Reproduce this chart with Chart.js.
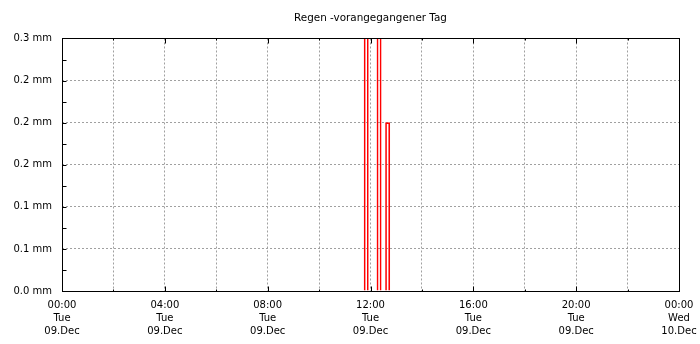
<!DOCTYPE html>
<html>
<head>
<meta charset="utf-8">
<script src="https://cdn.jsdelivr.net/npm/chart.js@4"></script>
<style>
    body { margin: 0; background: #fff; }
    #wrap { width: 700px; height: 344px; }
</style>
</head>
<body>
<div id="wrap"><canvas id="rainChart"></canvas></div>
<script>
// Rain per 10-minute slot (label = slot centre), previous day
const rainTimes = ['11:50', '12:20', '12:40'];
const rainMm = [0.4, 0.4, 0.2];

const yTickLabels = ['0.0 mm', '0.1 mm', '0.1 mm', '0.2 mm', '0.2 mm', '0.2 mm', '0.3 mm'];
const xTickLabels = [
    ['00:00', 'Tue', '09.Dec'],
    ['04:00', 'Tue', '09.Dec'],
    ['08:00', 'Tue', '09.Dec'],
    ['12:00', 'Tue', '09.Dec'],
    ['16:00', 'Tue', '09.Dec'],
    ['20:00', 'Tue', '09.Dec'],
    ['00:00', 'Wed', '10.Dec']
];

// 10-minute slots from 00:00 to 24:00
const slotLabels = [];
for (let i = 0; i <= 144; i++) {
    const h = Math.floor(i / 6), m = (i % 6) * 10;
    slotLabels.push(String(h).padStart(2, '0') + ':' + String(m).padStart(2, '0'));
}
const rainData = slotLabels.map(() => null);
rainTimes.forEach((t, k) => { rainData[slotLabels.indexOf(t)] = rainMm[k]; });

const gridGray = '#a0a0a0';

// frame + inward tick marks
const frameTicks = {
    id: 'frameTicks',
    afterDatasetsDraw(chart) {
        const { ctx, chartArea: a, scales: { x, y } } = chart;
        const L = Math.round(a.left) + 0.5, R = Math.round(a.right) + 0.5;
        const T = Math.round(a.top) + 0.5, B = Math.round(a.bottom) + 0.5;
        ctx.save();
        ctx.strokeStyle = '#000';
        ctx.lineWidth = 1;
        ctx.setLineDash([]);
        ctx.beginPath();
        y.ticks.forEach((t, i) => {
            const py = Math.round(y.getPixelForTick(i)) + 0.5;
            ctx.moveTo(L, py); ctx.lineTo(L + 4, py);
        });
        x.ticks.forEach((t, i) => {
            if (i % 12 !== 0) return;
            const len = i % 24 === 0 ? 5 : 2;
            const px = Math.round(x.getPixelForTick(i)) + 0.5;
            ctx.moveTo(px, B); ctx.lineTo(px, B - len);
            ctx.moveTo(px, T); ctx.lineTo(px, T + len);
        });
        ctx.stroke();
        ctx.strokeRect(L, T, R - L, B - T);
        ctx.restore();
    }
};

Chart.defaults.font.family = '"DejaVu Sans", sans-serif';
Chart.defaults.font.size = 10;
Chart.defaults.color = '#000';

new Chart(document.getElementById('rainChart').getContext('2d'), {
    type: 'bar',
    data: {
        labels: slotLabels,
        datasets: [{
            label: 'Regen',
            data: rainData,
            backgroundColor: 'rgba(0,0,0,0)',
            borderColor: '#ff0000',
            borderWidth: 1,
            categoryPercentage: 1,
            barPercentage: 1
        }]
    },
    options: {
        responsive: true,
        maintainAspectRatio: false,
        animation: false,
        layout: { padding: { top: 0, right: 21, bottom: 0, left: 0 } },
        plugins: {
            legend: { display: false },
            tooltip: { enabled: false },
            title: {
                display: true,
                fullSize: false,
                text: 'Regen -vorangegangener Tag',
                font: { size: 10.4, weight: 'normal', lineHeight: 1.2 },
                padding: { top: 12, bottom: 14 }
            }
        },
        scales: {
            x: {
                offset: false,
                grid: {
                    offset: false,
                    drawTicks: false,
                    color: ctx => (ctx.index % 12 === 0 ? gridGray : 'rgba(0,0,0,0)')
                },
                border: { display: false, dash: [2, 2] },
                ticks: {
                    autoSkip: false,
                    maxRotation: 0,
                    padding: 8,
                    font: { size: 10, lineHeight: 1.3 },
                    callback: (value, index) => (index % 24 === 0 ? xTickLabels[index / 24] : '')
                },
                afterFit: scale => {
                    scale.height = 53;
                    scale.paddingLeft = 0;
                    scale.paddingRight = 0;
                }
            },
            y: {
                min: 0,
                max: 0.3,
                grid: {
                    drawTicks: false,
                    color: ctx => (ctx.index % 2 === 0 ? gridGray : 'rgba(0,0,0,0)')
                },
                border: { display: false, dash: [2, 2] },
                ticks: {
                    stepSize: 0.025,
                    autoSkip: false,
                    padding: 10,
                    callback: (value, index) => (index % 2 === 0 ? yTickLabels[index / 2] : '')
                },
                afterFit: scale => {
                    scale.width = 62;
                    scale.paddingTop = 0;
                    scale.paddingBottom = 0;
                }
            }
        }
    },
    plugins: [frameTicks]
});
</script>
</body>
</html>
